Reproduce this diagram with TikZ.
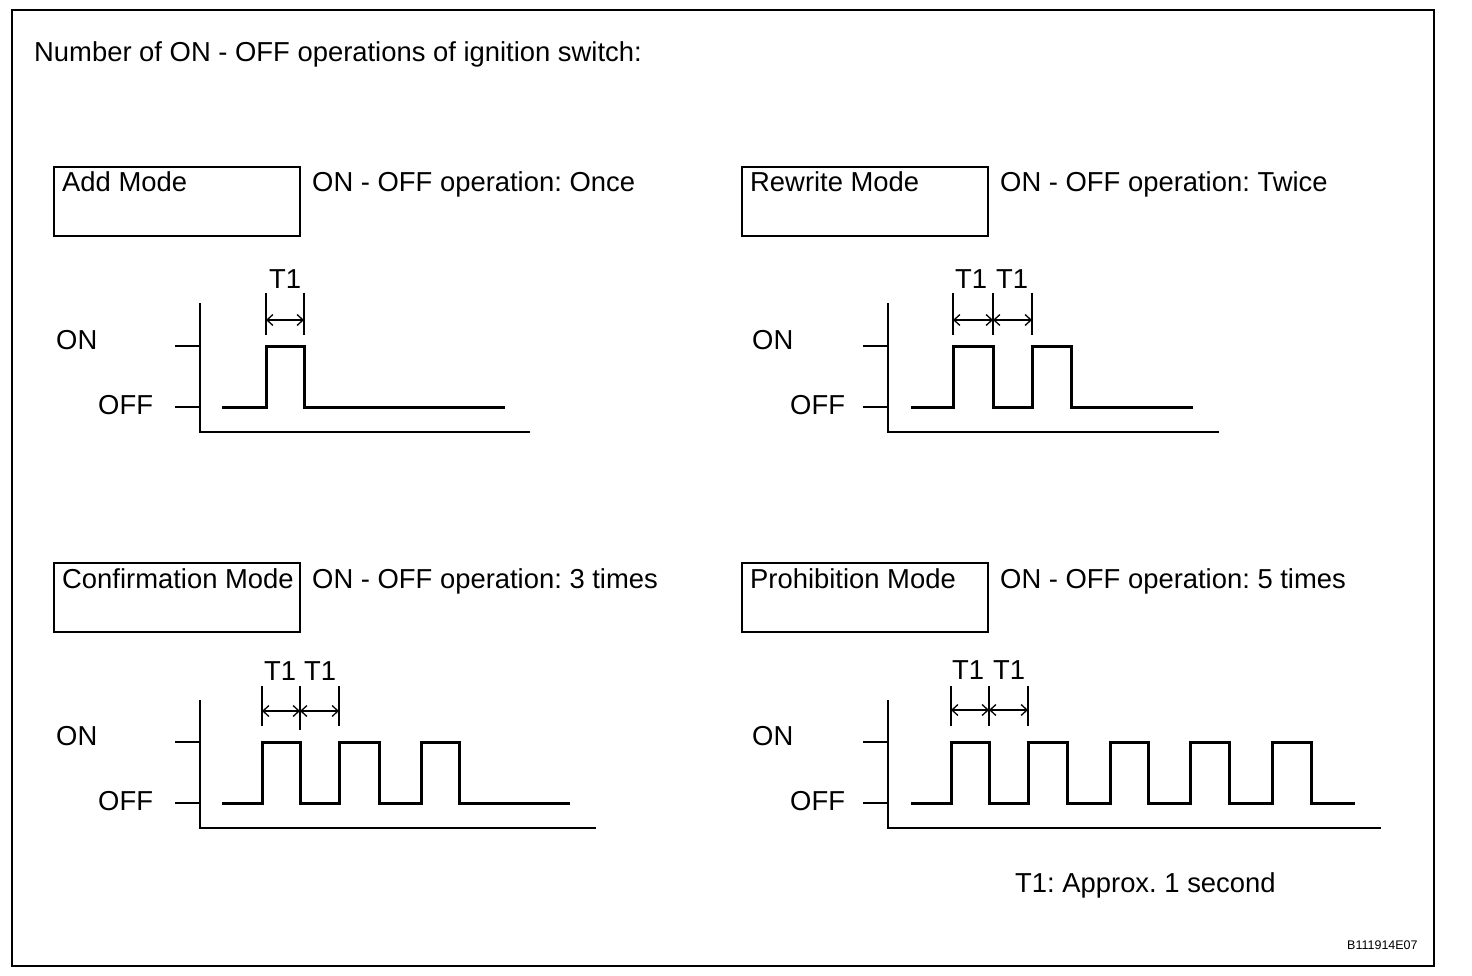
\documentclass[tikz,border=0pt]{standalone}
\usepackage{fontspec}
\setmainfont{Liberation Sans}
\usetikzlibrary{arrows.meta}
\begin{document}
\frenchspacing
\begin{tikzpicture}[x=1pt,y=-1pt,
  txt/.style={inner sep=0pt, anchor=base west, font=\fontsize{27.4}{32}\selectfont},
  tlab/.style={inner sep=0pt, anchor=base, font=\fontsize{27.4}{32}\selectfont},
  modebox/.style={draw, line width=2pt, anchor=north west, minimum width=246pt, minimum height=69pt, inner sep=0pt},
  axisline/.style={line width=2pt},
  sig/.style={line width=3pt},
  dimline/.style={line width=1.2pt},
  dimarrow/.style={line width=1.3pt, {Straight Barb[length=6pt,width=11pt]}-{Straight Barb[length=6pt,width=11pt]}},
  frameline/.style={line width=2.2pt}
]
\useasboundingbox (0,0) rectangle (1472,976);
\draw[frameline] (12,10) rectangle (1434,966);

\node[txt] (title) at (34,62) {Number of ON - OFF operations of ignition switch:};

% ---------- Panel 1: Add Mode ----------
\node[modebox] (box1) at (53,166) {};
\node[txt] (mode1) at (62,192) {Add Mode};
\node[txt] (op1) at (312,192) {ON - OFF operation: Once};
\node[txt] (on1) at (56,349) {ON};
\node[txt] (off1) at (98,414) {OFF};
\draw[axisline] (175,346) -- (200,346);
\draw[axisline] (175,407) -- (200,407);
\draw[axisline] (200,303) -- (200,432) -- (530,432);
\draw[sig] (222,407) -| (266,346) -| (304,407) -- (505,407);
\draw[dimline] (266,293) -- (266,335);
\draw[dimline] (304,293) -- (304,335);
\draw[dimarrow] (266,320) -- (304,320);
\node[tlab] (t1a) at (285,288) {T1};

% ---------- Panel 2: Rewrite Mode ----------
\node[modebox] (box2) at (741,166) {};
\node[txt] (mode2) at (750,192) {Rewrite Mode};
\node[txt] (op2) at (1000,192) {ON - OFF operation: Twice};
\node[txt] (on2) at (752,349) {ON};
\node[txt] (off2) at (790,414) {OFF};
\draw[axisline] (863,346) -- (888,346);
\draw[axisline] (863,407) -- (888,407);
\draw[axisline] (888,303) -- (888,432) -- (1219,432);
\draw[sig] (911,407) -| (953,346) -| (993,407) -| (1032,346) -| (1071,407) -- (1193,407);
\draw[dimline] (953,293) -- (953,335);
\draw[dimline] (993,293) -- (993,335);
\draw[dimline] (1032,293) -- (1032,335);
\draw[dimarrow] (953,320) -- (993,320);
\draw[dimarrow] (993,320) -- (1032,320);
\node[tlab] (t2a) at (971,288) {T1};
\node[tlab] (t2b) at (1012,288) {T1};

% ---------- Panel 3: Confirmation Mode ----------
\node[modebox] (box3) at (53,562) {};
\node[txt] (mode3) at (62,588) {Confirmation Mode};
\node[txt] (op3) at (312,588) {ON - OFF operation: 3 times};
\node[txt] (on3) at (56,745) {ON};
\node[txt] (off3) at (98,810) {OFF};
\draw[axisline] (175,742) -- (200,742);
\draw[axisline] (175,803) -- (200,803);
\draw[axisline] (200,700) -- (200,828) -- (596,828);
\draw[sig] (222,803) -| (262,742) -| (300,803) -| (339,742) -| (379,803) -| (421,742) -| (459,803) -- (570,803);
\draw[dimline] (262,686) -- (262,726);
\draw[dimline] (300,686) -- (300,730);
\draw[dimline] (339,686) -- (339,726);
\draw[dimarrow] (262,711) -- (300,711);
\draw[dimarrow] (300,711) -- (339,711);
\node[tlab] (t3a) at (280,680) {T1};
\node[tlab] (t3b) at (320,680) {T1};

% ---------- Panel 4: Prohibition Mode ----------
\node[modebox] (box4) at (741,562) {};
\node[txt] (mode4) at (750,588) {Prohibition Mode};
\node[txt] (op4) at (1000,588) {ON - OFF operation: 5 times};
\node[txt] (on4) at (752,745) {ON};
\node[txt] (off4) at (790,810) {OFF};
\draw[axisline] (863,742) -- (888,742);
\draw[axisline] (863,803) -- (888,803);
\draw[axisline] (888,700) -- (888,828) -- (1381,828);
\draw[sig] (911,803) -| (951,742) -| (989,803) -| (1028,742) -| (1067,803) -| (1110,742) -| (1148,803) -| (1190,742) -| (1229,803) -| (1272,742) -| (1311,803) -- (1355,803);
\draw[dimline] (951,686) -- (951,726);
\draw[dimline] (989,686) -- (989,726);
\draw[dimline] (1028,686) -- (1028,726);
\draw[dimarrow] (951,710) -- (989,710);
\draw[dimarrow] (989,710) -- (1028,710);
\node[tlab] (t4a) at (968,679) {T1};
\node[tlab] (t4b) at (1009,679) {T1};

\node[txt] (note) at (1015,892) {T1: Approx. 1 second};
\node[inner sep=0pt, anchor=base west, font=\fontsize{12.5}{14}\selectfont] (code) at (1347,949) {B111914E07};
\end{tikzpicture}
\end{document}
